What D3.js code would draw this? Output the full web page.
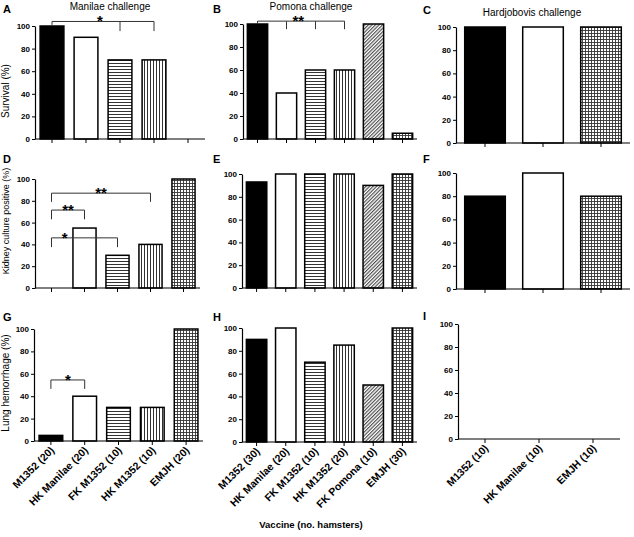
<!DOCTYPE html>
<html><head><meta charset="utf-8">
<script src="https://cdn.jsdelivr.net/npm/d3@7/dist/d3.min.js"></script>
<style>body{margin:0;background:#fff}svg{display:block}text{font-family:"Liberation Sans",Arial,sans-serif}</style>
</head><body><svg id="c" width="634" height="537"></svg>
<script>
// ---- data ----
const vaccinesManilae = ["M1352","HK Manilae","FK M1352","HK M1352","EMJH"];
const vaccinesPomona = ["M1352","HK Manilae","FK M1352","HK M1352","FK Pomona","EMJH"];
const vaccinesHardjo = ["M1352","HK Manilae","EMJH"];
const labelsManilae = ["M1352 (20)","HK Manilae (20)","FK M1352 (10)","HK M1352 (10)","EMJH (20)"];
const labelsPomona = ["M1352 (30)","HK Manilae (20)","FK M1352 (10)","HK M1352 (20)","FK Pomona (10)","EMJH (30)"];
const labelsHardjo = ["M1352 (10)","HK Manilae (10)","EMJH (10)"];
const survivalManilae = [100,90,70,70,0];
const survivalPomona = [100,40,60,60,100,5];
const survivalHardjo = [100,100,100];
const kidneyManilae = [0,55,30,40,100];
const kidneyPomona = [93,100,100,100,90,100];
const kidneyHardjo = [80,100,80];
const lungManilae = [5,40,30,30,100];
const lungPomona = [90,100,70,85,50,100];
const lungHardjo = [0,0,0];
const yTicks = [0,20,40,60,80,100];
const colTitles = ["Manilae challenge","Pomona challenge","Hardjobovis challenge"];
const rowTitles = ["Survival (%)","Kidney culture positive (%)","Lung hemorrhage (%)"];
const panelLetters = ["A","B","C","D","E","F","G","H","I"];
const xTitle = "Vaccine (no. hamsters)";
// significance brackets: from category, to categories, level/drop in % units
const bracketsA = [{from:0,to:[2,3],level:104,drop:95.5,drop0:101,label:"*",at:0.47}];
const bracketsB = [{from:0,to:[1,2,3],level:102.5,drop:95.5,drop0:100,label:"**",at:0.47}];
const bracketsD = [{from:0,to:[3],level:87,drop:79,drop0:79,label:"**",at:0.5},
                   {from:0,to:[1],level:71.5,drop:63,drop0:63,label:"**",at:0.5},
                   {from:0,to:[2],level:46,drop:37.5,drop0:37.5,label:"*",at:0.2}];
const bracketsG = [{from:0,to:[1],level:54.5,drop:46.5,drop0:46.5,label:"*",at:0.5}];

// ---- layout ----
const panels = [
 {cats:vaccinesManilae, vals:survivalManilae, x0:35,x1:205,yT:26,yB:139, br:bracketsA},
 {cats:vaccinesPomona, vals:survivalPomona, x0:243,x1:417,yT:24,yB:139, br:bracketsB},
 {cats:vaccinesHardjo, vals:survivalHardjo, x0:456,x1:630,yT:27,yB:143, br:[]},
 {cats:vaccinesManilae, vals:kidneyManilae, x0:35,x1:200,yT:179,yB:288, br:bracketsD},
 {cats:vaccinesPomona, vals:kidneyPomona, x0:242,x1:417,yT:174,yB:288, br:[]},
 {cats:vaccinesHardjo, vals:kidneyHardjo, x0:456,x1:630,yT:173,yB:289, br:[]},
 {cats:vaccinesManilae, vals:lungManilae, x0:34,x1:203,yT:329,yB:441, br:bracketsG, labels:labelsManilae},
 {cats:vaccinesPomona, vals:lungPomona, x0:242,x1:417,yT:328,yB:442, br:[], labels:labelsPomona},
 {cats:vaccinesHardjo, vals:lungHardjo, x0:458,x1:620,yT:324,yB:439, br:[], labels:labelsHardjo}
];
const letterPos = [[3,13],[213,13],[423,14],[3,163],[213,163],[423,163],[3,321],[213,321],[423,320]];
const titlePos = [[110,10],[311,10],[532,16]];
const rowTitlePos = [[9,91,10],[9,221,9],[9,383,10]];

const svg = d3.select("#c");
const defs = svg.append("defs");
function pat(id, w, h, draw, transform){
  const p = defs.append("pattern").attr("id",id).attr("width",w).attr("height",h).attr("patternUnits","userSpaceOnUse");
  if(transform) p.attr("patternTransform",transform);
  p.append("rect").attr("width",w).attr("height",h).attr("fill","#fff");
  draw(p);
}
pat("hl",4,3,p=>p.append("line").attr("x1",0).attr("x2",4).attr("y1",0.5).attr("y2",0.5).attr("stroke","#333").attr("stroke-width",1));
pat("vl",3,4,p=>p.append("line").attr("y1",0).attr("y2",4).attr("x1",0.5).attr("x2",0.5).attr("stroke","#333").attr("stroke-width",1));
pat("dg",2.5,4,p=>p.append("line").attr("y1",0).attr("y2",4).attr("x1",0.6).attr("x2",0.6).attr("stroke","#444").attr("stroke-width",1.1),"rotate(45)");
pat("gr",3,3,p=>{p.append("line").attr("x1",0).attr("x2",3).attr("y1",0.5).attr("y2",0.5).attr("stroke","#333").attr("stroke-width",0.9);
                 p.append("line").attr("y1",0).attr("y2",3).attr("x1",0.5).attr("x2",0.5).attr("stroke","#333").attr("stroke-width",0.9);});
const fillFor = {"M1352":"#000","HK Manilae":"#fff","FK M1352":"url(#hl)","HK M1352":"url(#vl)","FK Pomona":"url(#dg)","EMJH":"url(#gr)"};

panels.forEach((P,i)=>{
  const x = d3.scaleBand().domain(P.cats).range([P.x0,P.x1]).paddingInner(0.3).paddingOuter(0.15).align(0.5);
  const y = d3.scaleLinear().domain([0,100]).range([P.yB,P.yT]);
  const g = svg.append("g");
  // bars
  g.selectAll("rect.bar").data(P.cats.map((c,k)=>({c,v:P.vals[k]})).filter(d=>d.v>0)).join("rect")
    .attr("x",d=>x(d.c)).attr("width",x.bandwidth())
    .attr("y",d=>y(d.v)).attr("height",d=>y(0)-y(d.v))
    .attr("fill",d=>fillFor[d.c]).attr("stroke","#000").attr("stroke-width",1.5);
  // y axis
  const ya = g.append("g").attr("transform",`translate(${P.x0},0)`)
    .call(d3.axisLeft(y).tickValues(yTicks).tickSize(3).tickPadding(2).tickSizeOuter(0));
  ya.select(".domain").attr("stroke-width",1.2);
  ya.selectAll("text").attr("font-size",8).attr("font-weight","bold").attr("font-family","Liberation Sans, Arial, sans-serif");
  // x axis
  const xa = g.append("g").attr("transform",`translate(0,${P.yB})`)
    .call(d3.axisBottom(x).tickSize(4).tickSizeOuter(0).tickFormat((d,k)=>P.labels?P.labels[k]:""));
  xa.select(".domain").attr("stroke-width",1.2).attr("d",`M${P.x0},0H${P.x1}`);
  xa.selectAll("text").attr("font-size",10.5).attr("font-weight","bold").attr("font-family","Liberation Sans, Arial, sans-serif")
    .attr("text-anchor","end").attr("dy",0).attr("y",0)
    .attr("transform","translate(4,10) rotate(-45)");
  // brackets
  P.br.forEach(b=>{
    const xf = x(P.cats[b.from])+x.bandwidth()/2;
    const xs = b.to.map(t=>x(P.cats[t])+x.bandwidth()/2);
    const xl = d3.max(xs);
    let path = `M${xf},${y(b.drop0)}V${y(b.level)}H${xl}`;
    xs.forEach(xx=>{ path += `M${xx},${y(b.level)}V${y(b.drop)}`; });
    g.append("path").attr("d",path).attr("fill","none").attr("stroke","#333").attr("stroke-width",1);
    g.append("text").attr("x",xf+b.at*(xl-xf)).attr("y",y(b.level)+5)
      .attr("text-anchor","middle").attr("font-size",15).attr("font-weight","bold").text(b.label);
  });
  svg.append("text").attr("x",letterPos[i][0]).attr("y",letterPos[i][1]).attr("font-size",11).attr("font-weight","bold").text(panelLetters[i]);
});
colTitles.forEach((t,i)=>svg.append("text").attr("x",titlePos[i][0]).attr("y",titlePos[i][1]).attr("text-anchor","middle").attr("font-size",10).text(t));
rowTitles.forEach((t,i)=>svg.append("text").attr("transform",`translate(${rowTitlePos[i][0]},${rowTitlePos[i][1]}) rotate(-90)`).attr("text-anchor","middle").attr("font-size",rowTitlePos[i][2]).text(t));
svg.append("text").attr("x",311).attr("y",528).attr("text-anchor","middle").attr("font-size",9.5).attr("font-weight","bold").text(xTitle);
</script></body></html>
